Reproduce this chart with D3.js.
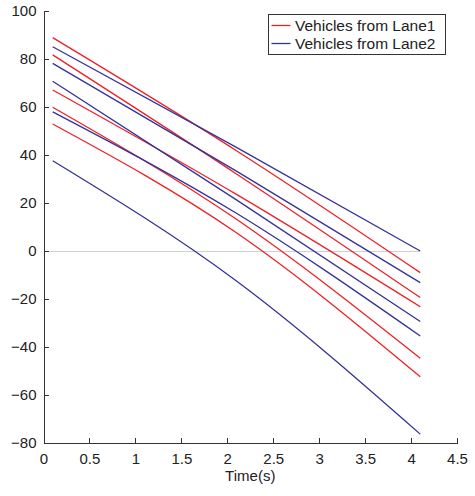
<!DOCTYPE html>
<meta charset="utf-8">
<style>
  body {
    margin: 0;
    background: #fff;
    font-family: 'Liberation Sans', Arial, sans-serif;
  }

  .axis path,
  .axis line {
    fill: none;
    stroke: #333;
    stroke-width: 1;
    shape-rendering: crispEdges;
  }

  .axis text {
    font-size: 15px;
    fill: #222;
  }
</style>

<body>
  <div id="chart"></div>
  <script src="https://d3js.org/d3.v7.min.js"></script>

  <script>
    // sample times (s) and distances
    var time = [0.1, 2.1, 4.1];

    var lane1 = [
      [88.9, 41.8, -9.0],
      [81.7, 32.1, -19.4],
      [67.1, 23.6, -23.2],
      [59.9, 13.2, -44.7],
      [52.9, 7.6, -52.4]
    ];

    var lane2 = [
      [85.1, 43.2, 0.0],
      [78.2, 33.3, -13.2],
      [70.7, 21.3, -29.4],
      [58.0, 15.7, -35.4],
      [37.6, -12.5, -76.3]
    ];

    var xTicks = [0, 0.5, 1, 1.5, 2, 2.5, 3, 3.5, 4, 4.5];
    var yTicks = [-80, -60, -40, -20, 0, 20, 40, 60, 80, 100];
    var legendLabels = ["Vehicles from Lane1", "Vehicles from Lane2"];
    var colors = ["#ec2127", "#333399"];

    var margin = { top: 11, right: 18, bottom: 53, left: 43.5 },
      width = 475 - margin.left - margin.right,
      height = 496 - margin.top - margin.bottom;

    var svg = d3.select("#chart")
      .append("svg")
      .attr("width", 475)
      .attr("height", 496)
      .append("g")
      .attr("transform", "translate(" + margin.left + "," + margin.top + ")");

    var x = d3.scaleLinear().domain([0, 4.5]).range([0, width]);
    var y = d3.scaleLinear().domain([-80, 100]).range([height, 0]);

    // faint zero line
    svg.append("line")
      .attr("x1", x(0))
      .attr("x2", x(d3.max(time)))
      .attr("y1", y(0))
      .attr("y2", y(0))
      .style("stroke", "#d0d0d0")
      .style("stroke-width", 1)
      .style("shape-rendering", "crispEdges");

    var line = d3.line()
      .x(function(d, i) { return x(time[i]); })
      .y(function(d) { return y(d); })
      .curve(d3.curveNatural);

    // draw the trajectories, alternating lanes like the original
    for (var i = 0; i < lane1.length; i++) {
      svg.append("path")
        .attr("d", line(lane1[i]))
        .style("fill", "none")
        .style("stroke", colors[0])
        .style("stroke-width", 1.3);
      svg.append("path")
        .attr("d", line(lane2[i]))
        .style("fill", "none")
        .style("stroke", colors[1])
        .style("stroke-width", 1.3);
    }

    // axes, ticks pointing inwards
    svg.append("g")
      .attr("class", "axis")
      .attr("transform", "translate(0," + height + ")")
      .call(d3.axisBottom(x)
        .tickValues(xTicks)
        .tickFormat(d3.format("~g"))
        .tickSizeInner(-5)
        .tickSizeOuter(0)
        .tickPadding(10));

    svg.append("g")
      .attr("class", "axis")
      .call(d3.axisLeft(y)
        .tickValues(yTicks)
        .tickSizeInner(-5)
        .tickSizeOuter(0)
        .tickPadding(7));

    // x-axis label
    svg.append("text")
      .attr("x", width / 2)
      .attr("y", height + 38)
      .attr("text-anchor", "middle")
      .style("font-size", "15px")
      .style("fill", "#222")
      .text("Time(s)");

    // handmade legend
    var legend = svg.append("g")
      .attr("transform", "translate(" + (268.5 - margin.left) + "," + (14.5 - margin.top) + ")");

    legend.append("rect")
      .attr("width", 177)
      .attr("height", 40)
      .style("fill", "#fff")
      .style("stroke", "#333")
      .style("stroke-width", 1);

    legendLabels.forEach(function(label, k) {
      legend.append("line")
        .attr("x1", 3)
        .attr("x2", 22)
        .attr("y1", 11 + k * 18)
        .attr("y2", 11 + k * 18)
        .style("stroke", colors[k])
        .style("stroke-width", 1.3);
      legend.append("text")
        .attr("x", 26.5)
        .attr("y", 11 + k * 18)
        .attr("dy", "0.35em")
        .style("font-size", "15.5px")
        .style("fill", "#222")
        .text(label);
    });
  </script>
</body>
